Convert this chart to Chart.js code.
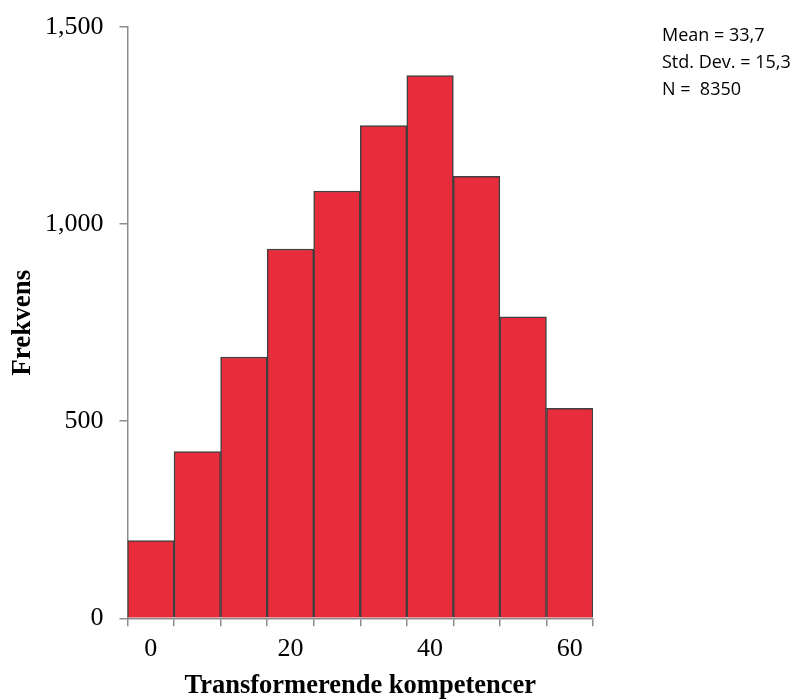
<!DOCTYPE html>
<html>
<head>
<meta charset="utf-8">
<script src="https://cdn.jsdelivr.net/npm/chart.js@4/dist/chart.umd.min.js"></script>
<style>
  html, body { margin: 0; padding: 0; background: #fff; }
</style>
</head>
<body>
<canvas id="histChart" width="796" height="700"></canvas>
<script>
// histogram bins (10 bins, labels only on every third)
const binLabels = ["0", "", "", "20", "", "", "40", "", "", "60"];
const frequencies = [197, 423, 663, 937, 1084, 1250, 1377, 1121, 765, 533];
const yTicks = [0, 500, 1000, 1500];
const statsLines = ["Mean = 33,7", "Std. Dev. = 15,3", "N =  8350"];

const serif = "'Liberation Serif', 'Times New Roman', serif";

// little text block at the top right, like the SPSS output
const statsBox = {
  id: "statsBox",
  afterDraw(chart) {
    const ctx = chart.ctx;
    ctx.save();
    ctx.font = "18px 'Open Sans', sans-serif";
    ctx.fillStyle = "#000";
    ctx.textBaseline = "middle";
    statsLines.forEach((t, i) => {
      ctx.fillText(t, 662, 36 + i * 27);
    });
    ctx.restore();
  },
};

const ctx = document.getElementById("histChart").getContext("2d");

new Chart(ctx, {
  type: "bar",
  data: {
    labels: binLabels,
    datasets: [
      {
        data: frequencies,
        backgroundColor: "#e92c3c",
        borderColor: "#404040",
        borderWidth: 1.5,
        barPercentage: 1,
        categoryPercentage: 1,
      },
    ],
  },
  options: {
    responsive: false,
    animation: false,
    layout: {
      padding: { left: 10, right: 203, top: 4, bottom: 1 },
    },
    plugins: {
      legend: { display: false },
      tooltip: { enabled: false },
    },
    scales: {
      x: {
        offset: true,
        grid: {
          offset: true,
          drawOnChartArea: false,
          tickLength: 8,
          color: "#8c8c8c",
          lineWidth: 1.5,
        },
        border: { color: "#8c8c8c", width: 1.5 },
        ticks: {
          autoSkip: false,
          maxRotation: 0,
          color: "#000",
          font: { family: serif, size: 26 },
          padding: 7,
        },
        title: {
          display: true,
          text: "Transformerende kompetencer",
          color: "#000",
          font: { family: serif, size: 26.5, weight: "bold", lineHeight: 1 },
          padding: { top: 1, bottom: 0 },
        },
      },
      y: {
        min: yTicks[0],
        max: yTicks[yTicks.length - 1],
        afterBuildTicks: (axis) => {
          axis.ticks = yTicks.map((v) => ({ value: v }));
        },
        grid: {
          drawOnChartArea: false,
          tickLength: 8,
          color: "#8c8c8c",
          lineWidth: 1.5,
        },
        border: { color: "#8c8c8c", width: 1.5 },
        ticks: {
          color: "#000",
          font: { family: serif, size: 26, lineHeight: 0.85 },
          padding: 16,
          callback: (v) => v.toLocaleString("en-US"),
        },
        title: {
          display: true,
          text: "Frekvens",
          color: "#000",
          font: { family: serif, size: 27, weight: "bold", lineHeight: 1 },
          padding: { top: 0, bottom: -8 },
        },
      },
    },
  },
  plugins: [statsBox],
});
</script>
</body>
</html>
